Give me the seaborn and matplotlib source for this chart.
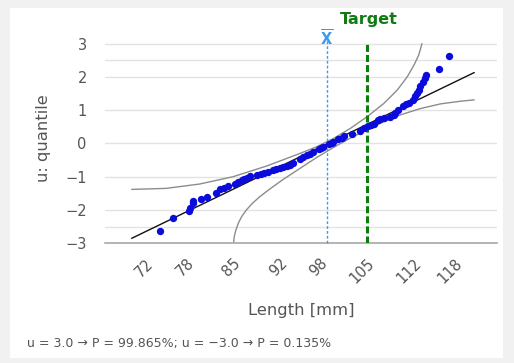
import matplotlib

matplotlib.use("Agg")
import matplotlib.pyplot as plt
import pandas as pd
import seaborn as sns
from matplotlib.patches import Rectangle

# measured lengths [mm] and their normal quantiles u
lengths = [74.1, 76.0, 78.4, 78.6, 79.0, 79.1, 80.3, 81.1, 82.5, 83.1, 83.6, 84.3,
           85.3, 85.8, 86.3, 86.7, 87.1, 87.6, 88.6, 89.2, 89.6, 90.3, 91.0, 91.5,
           92.0, 92.5, 93.0, 93.5, 94.0, 95.0, 95.5, 96.0, 96.5, 97.0, 97.8, 98.2,
           98.5, 99.3, 99.8, 100.0, 100.7, 101.2, 101.5, 102.7, 104.0, 104.5, 105.2,
           105.6, 106.0, 106.7, 107.0, 107.5, 108.5, 109.0, 109.2, 109.7, 110.4,
           110.8, 111.2, 111.9, 112.2, 112.5, 112.7, 112.9, 113.4, 113.7, 113.8,
           115.8, 117.2]
quantiles = [-2.62, -2.23, -2.02, -1.95, -1.80, -1.74, -1.68, -1.60, -1.48, -1.38, -1.34,
             -1.28, -1.22, -1.17, -1.10, -1.07, -1.05, -0.99, -0.95, -0.93, -0.90, -0.85,
             -0.81, -0.78, -0.74, -0.70, -0.67, -0.65, -0.60, -0.47, -0.42, -0.36, -0.32,
             -0.25, -0.17, -0.13, -0.10, -0.02, 0.02, 0.05, 0.12, 0.17, 0.22, 0.28, 0.38,
             0.46, 0.53, 0.56, 0.59, 0.69, 0.72, 0.76, 0.79, 0.85, 0.91, 1.01, 1.13, 1.18,
             1.23, 1.31, 1.43, 1.52, 1.61, 1.73, 1.86, 1.96, 2.06, 2.24, 2.63]

# fitted normal line (end points)
fit_x = [69.9, 121.0]
fit_u = [-2.85, 2.13]

# confidence band curves
upper_x = [69.9, 75.0, 80.0, 85.0, 90.0, 95.0, 97.5, 100.0, 102.5, 105.0, 107.5,
           109.5, 111.0, 112.0, 112.7, 113.0, 113.2]
upper_u = [-1.38, -1.35, -1.22, -1.0, -0.68, -0.30, -0.10, 0.15, 0.45, 0.80, 1.20,
           1.60, 2.00, 2.35, 2.65, 2.85, 3.00]
lower_x = [85.1, 85.2, 85.45, 85.8, 86.3, 87.0, 87.9, 89.0, 90.5, 92.5, 95.0, 97.5,
           100.0, 102.5, 105.0, 107.5, 110.0, 113.0, 116.0, 119.0, 121.0]
lower_u = [-3.00, -2.80, -2.60, -2.40, -2.20, -2.00, -1.80, -1.60, -1.37, -1.08, -0.75,
           -0.42, -0.12, 0.16, 0.41, 0.65, 0.86, 1.05, 1.19, 1.27, 1.31]

mean_x = 99.0
target_x = 105.0
x_ticks = [72, 78, 85, 92, 98, 105, 112, 118]
y_ticks = [-3, -2, -1, 0, 1, 2, 3]
footer = "u = 3.0 \u2192 P = 99.865%; u = \u22123.0 \u2192 P = 0.135%"

sns.set_style("white")
plt.rcParams["font.family"] = ["DejaVu Sans"]
text_grey = "#555555"

fig = plt.figure(figsize=(5.14, 3.63), dpi=100, facecolor="#f1f1f1")
fig.patches.append(Rectangle((10 / 514, 5 / 363), 493 / 514, 350 / 363,
                             transform=fig.transFigure, facecolor="white",
                             edgecolor="none", zorder=-10))
ax = fig.add_axes([0.204, 0.3297, 0.763, 0.5777])
ax.set_facecolor("none")

# grid lines (integers plus the +-2.5 lines)
for g in y_ticks + [-2.5, 2.5]:
    ax.axhline(g, color="#e3e3e3", lw=1, zorder=0)

band_df = pd.DataFrame({"x": upper_x + lower_x,
                        "u": upper_u + lower_u,
                        "band": ["upper"] * len(upper_x) + ["lower"] * len(lower_x)})
sns.lineplot(data=band_df, x="x", y="u", units="band", estimator=None, sort=False,
             color="#8c8c8c", lw=1, ax=ax, zorder=2)
sns.lineplot(x=fit_x, y=fit_u, color="#111111", lw=1, ax=ax, zorder=3)
sns.scatterplot(x=lengths, y=quantiles, color="#0b0bdc", s=28, linewidth=0,
                ax=ax, zorder=4)

ax.plot([mean_x, mean_x], [-3, 3.12], color="#3d9bef", lw=1,
        linestyle=(0, (2, 1.5)), zorder=3, clip_on=False)
ax.text(mean_x, 3.14, r"$\overline{\mathbf{X}}$", color="#3d9bef", fontsize=10.5,
        ha="center", va="center", clip_on=False)
ax.plot([target_x, target_x], [-3, 3], color="#0b7d0b", lw=2.2,
        linestyle=(0, (2.3, 1.0)), zorder=3)
ax.text(target_x + 0.3, 3.72, "Target", color="#127a12", fontsize=11.5,
        fontweight="bold", ha="center", va="center", clip_on=False)

ax.set_xlim(65.9, 124.4)
ax.set_ylim(-3, 3.3)
ax.set_xticks(x_ticks)
ax.set_xticklabels([str(t) for t in x_ticks], rotation=45, ha="right",
                   rotation_mode="anchor")
ax.set_yticks(y_ticks)
ax.set_yticklabels([str(t).replace("-", "\u2212") for t in y_ticks])
ax.tick_params(axis="x", colors="#aaaaaa", length=6, width=1, labelcolor=text_grey,
               labelsize=10.5, pad=3)
ax.tick_params(axis="y", colors="#e0e0e0", length=5, width=1, labelcolor=text_grey,
               labelsize=10.5, pad=8)

for side in ["top", "right", "left"]:
    ax.spines[side].set_visible(False)
ax.spines["bottom"].set_color("#a8a8a8")
ax.spines["bottom"].set_linewidth(1.2)

ax.set_xlabel("Length [mm]", color=text_grey, fontsize=11.8, labelpad=12)
ax.set_ylabel("u: quantile", color=text_grey, fontsize=11.8, labelpad=10)

fig.text(27 / 514, 1 - 343 / 363, footer, color=text_grey, fontsize=9,
         ha="left", va="center")

fig.savefig("out.png", dpi=100, facecolor=fig.get_facecolor())
